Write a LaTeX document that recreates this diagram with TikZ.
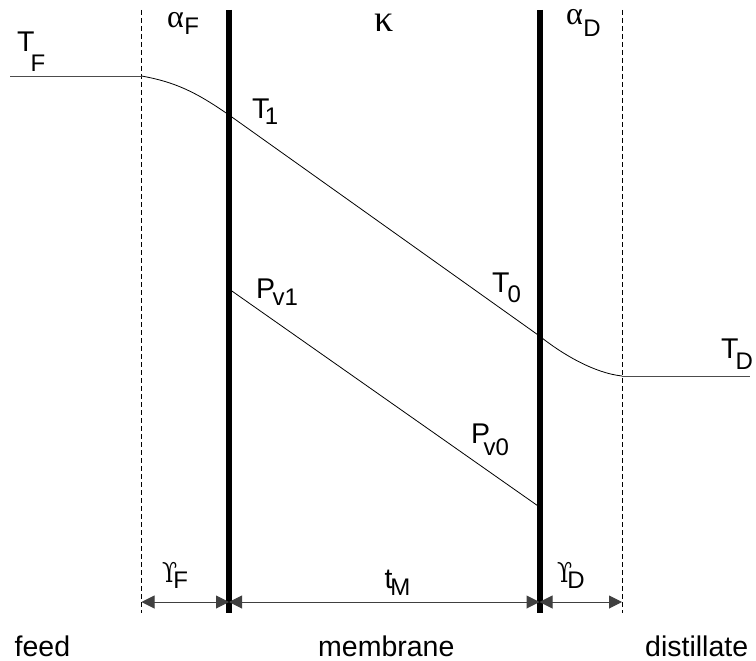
\documentclass[tikz,border=0pt]{standalone}
\usepackage[no-math]{fontspec}
\setmainfont{Liberation Sans}
\newfontfamily\grk{Liberation Serif}
\newfontfamily\dvs{DejaVu Serif}
\usetikzlibrary{arrows.meta}
\newcommand\mainsz{\fontsize{28.5}{30}\selectfont}
\newcommand\subsz{\fontsize{24}{26}\selectfont}
\newcommand\grksz{\fontsize{32}{34}\selectfont}
\newcommand\lbl[4]{#1\kern#2pt\raisebox{-#3pt}{\subsz #4}}
\newcommand\ups{\scalebox{0.8}[1]{\dvs\fontsize{27.5}{30}\selectfont ϒ}}
\begin{document}
\begin{tikzpicture}[x=1pt,y=-1pt,
  lab/.style={anchor=base west, inner sep=0pt, font=\mainsz},
  membr/.style={line width=6pt},
  bound/.style={line width=0.8pt, dash pattern=on 5pt off 3pt},
  prof/.style={line width=0.8pt},
  dim/.style={line width=1pt, black!75, {Triangle[length=13pt,width=13pt]}-{Triangle[length=13pt,width=13pt]}}]
\useasboundingbox (0,0) rectangle (756,661);
% boundaries
\coordinate (fT) at (141.5,10); \coordinate (fB) at (141.5,613);
\coordinate (mLT) at (229,10); \coordinate (mLB) at (229,613);
\coordinate (mRT) at (539.5,10); \coordinate (mRB) at (539.5,613);
\coordinate (dT) at (622,10); \coordinate (dB) at (622,613);
% profile points
\coordinate (TFs) at (10,76);
\coordinate (TFe) at (141.5,76);
\coordinate (T1p) at (229,115);
\coordinate (T0p) at (539.5,336);
\coordinate (TDs) at (622,376);
\coordinate (TDe) at (750,376);
\coordinate (PV1) at (229,289);
\coordinate (PV0) at (539.5,507);
% dimension points
\coordinate (a1) at (141.5,602);
\coordinate (a2) at (229,602);
\coordinate (a3) at (539.5,602);
\coordinate (a4) at (622,602);

\draw[bound] (fT) -- (fB);
\draw[bound] (dT) -- (dB);

\draw[prof, black!70] (TFs) -- (TFe);
\draw[prof] (TFe) .. controls (175,82) and (196,92) .. (T1p) -- (T0p)
  .. controls (562,354) and (594,373) .. (TDs);
\draw[prof, black!70] (TDs) -- (TDe);
\draw[prof] (PV1) -- (PV0);

\draw[membr] (mLT) -- (mLB);
\draw[membr] (mRT) -- (mRB);

\draw[dim] (a1) -- (a2);
\draw[dim] (a2) -- (a3);
\draw[dim] (a3) -- (a4);

% labels
\node[lab] (lTF) at (17,52) {\lbl{T}{-4}{20}{F}};
\node[lab] (laF) at (167,28) {\lbl{{\grk\grksz α}}{0.5}{7}{F}};
\node[lab] (lk) at (374,32) {{\grk\fontsize{38}{40}\selectfont κ}};
\node[lab] (laD) at (566,25) {\lbl{{\grk\grksz α}}{0.4}{12}{D}};
\node[lab] (lT1) at (252,118) {\lbl{T}{-4.7}{6}{1}};
\node[lab] (lT0) at (492,292) {\lbl{T}{-2}{10}{0}};
\node[lab] (lP1) at (255.8,298) {\lbl{P}{-2.5}{7}{v1}};
\node[lab] (lP0) at (470.8,443) {\lbl{P}{-6.5}{12}{v0}};
\node[lab] (lTD) at (721,358) {\lbl{T}{-3}{11}{D}};
\node[lab] (lYF) at (162,582) {\lbl{\ups}{-4}{6}{F}};
\node[lab] (ltM) at (384.5,588) {\lbl{t}{-2.3}{7}{M}};
\node[lab] (lYD) at (557,582) {\lbl{\ups}{-5}{6}{D}};
\node[lab] (lfeed) at (14.5,656) {feed};
\node[lab] (lmem) at (318,656) {membrane};
\node[lab] (ldist) at (645,656) {distillate};
\end{tikzpicture}
\end{document}
